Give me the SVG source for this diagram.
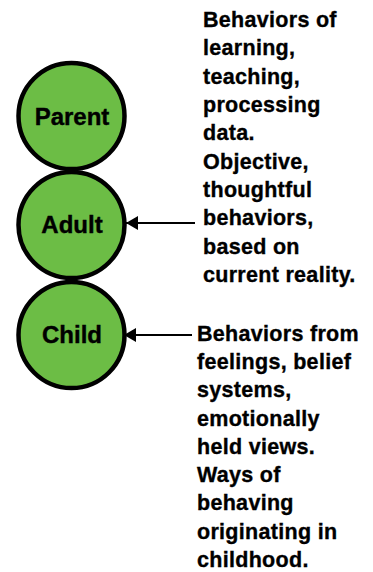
<svg xmlns="http://www.w3.org/2000/svg" width="373" height="572" viewBox="0 0 373 572">
<style>
.node circle{fill:#6cbd45;stroke:#000;stroke-width:4.5}
.lbl{font-family:"Liberation Sans",Arial,sans-serif;font-weight:bold;font-size:24px;fill:#000;stroke:#000;stroke-width:0.4;text-anchor:middle;dominant-baseline:central}
.desc{font-family:"Liberation Sans",Arial,sans-serif;font-weight:bold;font-size:21.5px;letter-spacing:0.3px;fill:#000;stroke:#000;stroke-width:0.35}
.conn line{stroke:#000;stroke-width:2}
</style>
<defs>
<marker id="ah" viewBox="0 0 12 14" refX="12" refY="7" markerWidth="12" markerHeight="14" markerUnits="userSpaceOnUse" orient="auto">
<path d="M0,0 L12,7 L0,14 Z" fill="#000"/>
</marker>
</defs>
<rect width="373" height="572" fill="#fff"/>
<g id="parent" class="node"><circle cx="71.5" cy="116" r="53"/><text class="lbl" x="72" y="116">Parent</text></g>
<g id="adult" class="node"><circle cx="71.5" cy="225" r="53"/><text class="lbl" x="72" y="224">Adult</text></g>
<g id="child" class="node"><circle cx="71.5" cy="335" r="53"/><text class="lbl" x="72" y="334">Child</text></g>
<g id="connectors" class="conn">
<line x1="195" y1="223" x2="126" y2="223" marker-end="url(#ah)"/>
<line x1="192" y1="335" x2="124" y2="335" marker-end="url(#ah)"/>
</g>
<g id="adult-desc">
<text class="desc" x="203" y="27">Behaviors of</text>
<text class="desc" x="203" y="55">learning,</text>
<text class="desc" x="203" y="84">teaching,</text>
<text class="desc" x="203" y="112">processing</text>
<text class="desc" x="203" y="140">data.</text>
<text class="desc" x="203" y="169">Objective,</text>
<text class="desc" x="203" y="197">thoughtful</text>
<text class="desc" x="203" y="225">behaviors,</text>
<text class="desc" x="203" y="254">based on</text>
<text class="desc" x="203" y="282">current reality.</text>
</g>
<g id="child-desc">
<text class="desc" x="197" y="341">Behaviors from</text>
<text class="desc" x="197" y="369">feelings, belief</text>
<text class="desc" x="197" y="397">systems,</text>
<text class="desc" x="197" y="426">emotionally</text>
<text class="desc" x="197" y="454">held views.</text>
<text class="desc" x="197" y="482">Ways of</text>
<text class="desc" x="197" y="510">behaving</text>
<text class="desc" x="197" y="539">originating in</text>
<text class="desc" x="197" y="567">childhood.</text>
</g>
</svg>
